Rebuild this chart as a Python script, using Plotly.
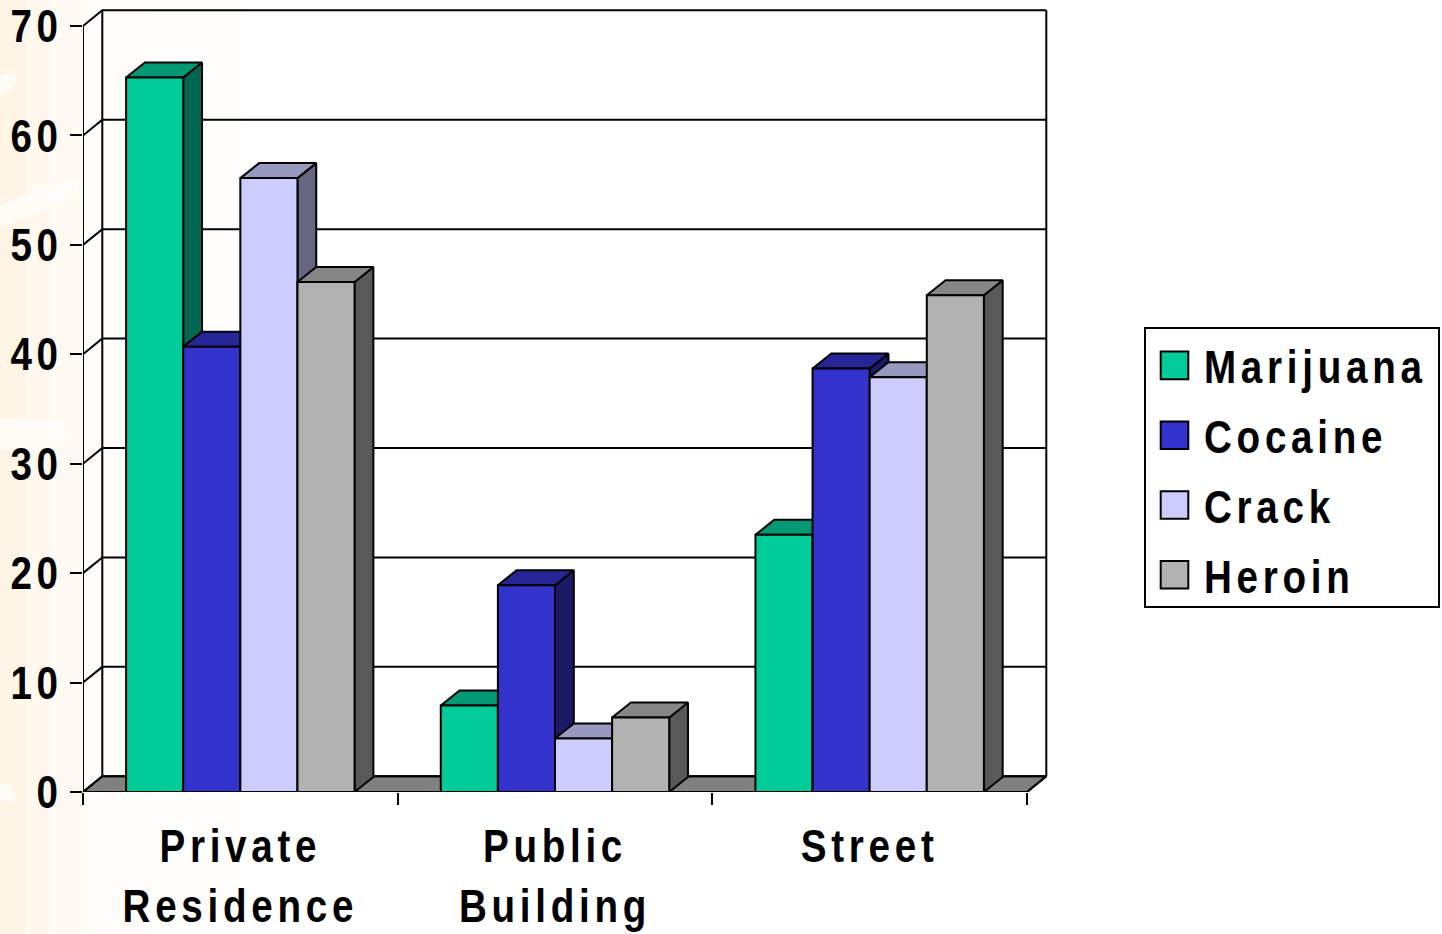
import plotly.graph_objects as go

# Survey data: where each drug was obtained
locations = ["Private<br>Residence", "Public<br>Building", "Street"]
marijuana = [65.3, 7.9, 23.5]
cocaine = [40.7, 18.9, 38.7]
crack = [56.1, 4.9, 37.9]
heroin = [46.6, 6.8, 45.4]
y_ticks = [0, 10, 20, 30, 40, 50, 60, 70]

series = [
    ("Marijuana", marijuana, "#00CC99", "#009973", "#006650"),
    ("Cocaine", cocaine, "#3333CC", "#262699", "#1A1A66"),
    ("Crack", crack, "#CCCCFF", "#9999BF", "#666680"),
    ("Heroin", heroin, "#B2B2B2", "#868686", "#595959"),
]

# Page geometry, in pixels
FIG_W, FIG_H = 1442, 934
LEFT, RIGHT, TOP, BOTTOM = 83, 1050, 8, 792
PX_PER_X = (1027 - 83) / 3
PX_PER_Y = (792 - 26) / 70

# Depth of the extruded look, in axis units
DX = 19.3 / PX_PER_X
DY = 15.7 / PX_PER_Y
BAR_DX = 18.8 / PX_PER_X
BAR_DY = 15 / PX_PER_Y
GROUP_FILL = 0.726
BAR_W = GROUP_FILL / len(series)
X_MAX = (RIGHT - LEFT) / PX_PER_X
Y_MAX = (BOTTOM - TOP) / PX_PER_Y
LABEL_FONT = "Liberation Sans, Arial, sans-serif"


def page_x(px):
    return (px - LEFT) / (RIGHT - LEFT)


def page_y(px):
    return (BOTTOM - px) / (BOTTOM - TOP)


fig = go.Figure()


def wire(xs, ys, width=2):
    fig.add_trace(go.Scatter(x=xs, y=ys, mode="lines", line=dict(color="#000000", width=width),
                             hoverinfo="skip", showlegend=False, cliponaxis=False, zorder=-2))


# Floor of the box
fig.add_trace(go.Scatter(x=[0, 3, 3 + DX, DX, 0], y=[0, 0, DY, DY, 0], mode="lines", fill="toself",
                         fillcolor="#808080", line=dict(color="#000000", width=2),
                         hoverinfo="skip", showlegend=False, cliponaxis=False, zorder=-3))

# Back wall gridlines and the diagonal joins on the left wall
for tick in y_ticks:
    wire([0, DX, 3 + DX], [tick, tick + DY, tick + DY])
wire([0, 0], [0, y_ticks[-1]])
wire([DX, DX], [DY, y_ticks[-1] + DY])
wire([3 + DX, 3 + DX], [DY, y_ticks[-1] + DY])
wire([3, 3 + DX], [0, DY])

# Bars: side and top faces come just before their front face so later series cover them
for s, (name, values, front, top, side) in enumerate(series):
    side_x, side_y, top_x, top_y = [], [], [], []
    for c, v in enumerate(values):
        x0 = c + 0.5 + (s - len(series) / 2) * BAR_W
        x1 = x0 + BAR_W
        side_x += [x1, x1 + BAR_DX, x1 + BAR_DX, x1, x1, None]
        side_y += [0, BAR_DY, v + BAR_DY, v, 0, None]
        top_x += [x0, x1, x1 + BAR_DX, x0 + BAR_DX, x0, None]
        top_y += [v, v, v + BAR_DY, v + BAR_DY, v, None]
    z = 2 * s
    for fx, fy, color in ((side_x, side_y, side), (top_x, top_y, top)):
        fig.add_trace(go.Scatter(x=fx, y=fy, mode="lines", fill="toself", fillcolor=color,
                                 line=dict(color="#000000", width=2), hoverinfo="skip",
                                 showlegend=False, cliponaxis=False, zorder=z))
    fig.add_trace(go.Bar(x=[0.5, 1.5, 2.5], y=values, name=name, legendgroup=name,
                         marker=dict(color=front, line=dict(color="#000000", width=2)),
                         zorder=z + 1))

# Cream wash down the left edge of the slide, fading to white
wash = [(0, "#FEF5E6"), (25, "#FFF8EE"), (50, "#FFFAF2"), (83, "#FFFDF9"), (150, "#FFFEFC"),
        (250, "#FFFFFF")]
shapes = []
for (px0, color), (px1, _) in zip(wash, wash[1:]):
    shapes.append(dict(type="rect", xref="paper", yref="paper", layer="below", line_width=0,
                       x0=page_x(px0), x1=page_x(px1), y0=page_y(FIG_H), y1=page_y(0),
                       fillcolor=color))

# Pale brush strokes in the wash
strokes = [
    [(0, 97), (10, 90), (18, 75), (8, 72), (0, 76)],
    [(0, 205), (40, 188), (78, 180), (78, 192), (40, 212), (0, 228)],
    [(0, 418), (60, 420), (68, 440), (40, 452), (0, 450)],
    [(0, 783), (8, 782), (18, 800), (0, 802)],
]
for outline in strokes:
    path = "M" + "L".join(f"{page_x(px)},{page_y(py)}" for px, py in outline) + "Z"
    shapes.append(dict(type="path", xref="paper", yref="paper", layer="below", line_width=0,
                       path=path, fillcolor="rgba(255,255,255,0.6)"))

fig.update_layout(
    width=FIG_W, height=FIG_H,
    margin=dict(l=LEFT, r=FIG_W - RIGHT, t=TOP, b=FIG_H - BOTTOM, pad=0, autoexpand=False),
    paper_bgcolor="#FFFFFF", plot_bgcolor="rgba(0,0,0,0)",
    barmode="group", bargap=1 - GROUP_FILL, bargroupgap=0,
    shapes=shapes,
    font=dict(family=LABEL_FONT, color="#000000"),
    xaxis=dict(range=[0, X_MAX], tickmode="array", tickvals=[0.5, 1.5, 2.5], ticktext=locations,
               ticks="", showgrid=False, zeroline=False, showline=False,
               tickfont=dict(size=46, family=LABEL_FONT, weight="bold"), ticklabelstandoff=23,
               minor=dict(tickmode="array", tickvals=[0, 1, 2, 3], ticks="outside", ticklen=12,
                          tickwidth=2, tickcolor="#000000", showgrid=False)),
    yaxis=dict(range=[0, Y_MAX], tickmode="array", tickvals=y_ticks, ticks="outside", ticklen=12,
               tickwidth=2, tickcolor="#000000", showgrid=False, zeroline=False, showline=False,
               tickfont=dict(size=46, family=LABEL_FONT, weight="bold"), ticklabelstandoff=0),
    legend=dict(x=page_x(1144), y=page_y(327),
                xanchor="left", yanchor="top", bgcolor="#FFFFFF", bordercolor="#000000",
                borderwidth=2, font=dict(size=46, family=LABEL_FONT, weight="bold"),
                traceorder="grouped", tracegroupgap=7, itemwidth=48, entrywidth=282,
                entrywidthmode="pixels"),
)

# Tighter glyphs with open tracking, and larger legend swatches, than the layout options offer
finish = """
var css = document.createElement('style');
css.textContent = '.xtick text, .ytick text, .legendtext {letter-spacing: 5.6px;}'
  + ' .legendpoints path {transform: translate(28.5px, 0) scale(2.3); vector-effect: non-scaling-stroke; stroke-width: 2px !important;}';
document.head.appendChild(css);
function squeeze(selector, anchor, factor, shift) {
  document.querySelectorAll(selector).forEach(function (el) {
    var box = el.getBBox();
    var ox = anchor === 'left' ? box.x : anchor === 'right' ? box.x + box.width : box.x + box.width / 2;
    var prior = el.getAttribute('transform') || '';
    el.setAttribute('transform', prior + ' translate(' + (ox + shift) + ',0) scale(' + factor + ',1) translate(' + (-ox) + ',0)');
  });
}
squeeze('.xtick text', 'middle', 0.84, 0);
squeeze('.ytick text', 'right', 0.84, 2);
squeeze('.legendtext', 'left', 0.84, 0);
document.querySelectorAll('.legend rect.bg').forEach(function (el) {
  el.setAttribute('width', 294);
  el.setAttribute('height', 279);
});
"""
fig.write_html("out.html", post_script=finish, config=dict(displayModeBar=False))
